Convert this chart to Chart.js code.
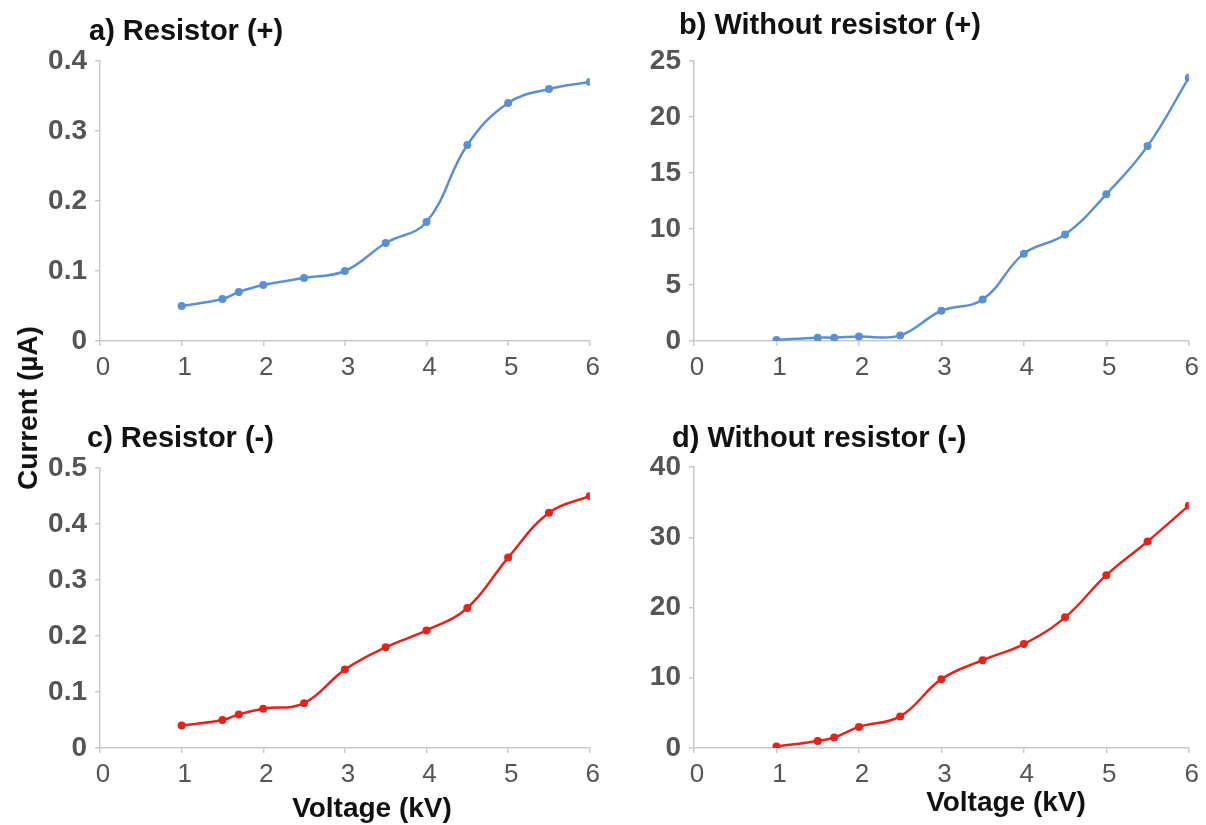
<!DOCTYPE html>
<html>
<head>
<meta charset="utf-8">
<script src="https://cdn.jsdelivr.net/npm/chart.js@4.4.1/dist/chart.umd.min.js"></script>
<style>
  body { margin: 0; background: #fff; }
  #wrap { position: relative; width: 1206px; height: 825px; overflow: hidden; font-family: "Liberation Sans", Arial, sans-serif; }
  canvas { position: absolute; }
  .lbl { position: absolute; font-weight: bold; font-size: 28px; color: #111; white-space: nowrap; }
  .ttl { position: absolute; font-weight: bold; font-size: 29px; color: #111; white-space: nowrap; transform: translateY(-50%); }
</style>
</head>
<body>
<div id="wrap">
  <canvas id="chartA" width="603" height="386" style="left:0px;top:0px"></canvas>
  <canvas id="chartB" width="608" height="386" style="left:594px;top:0px"></canvas>
  <canvas id="chartC" width="603" height="386" style="left:0px;top:407px"></canvas>
  <canvas id="chartD" width="608" height="386" style="left:594px;top:407px"></canvas>
  <div class="ttl" id="tA" style="left:89px;top:30px"></div>
  <div class="ttl" id="tB" style="left:679px;top:24px"></div>
  <div class="ttl" id="tC" style="left:87px;top:437px"></div>
  <div class="ttl" id="tD" style="left:672px;top:437px"></div>
  <div class="lbl" style="left:28px;top:408px;transform:translate(-50%,-50%) rotate(-90deg)">Current (µA)</div>
  <div class="lbl" style="left:372px;top:808px;transform:translate(-50%,-50%)">Voltage (kV)</div>
  <div class="lbl" style="left:1006px;top:802px;transform:translate(-50%,-50%)">Voltage (kV)</div>
</div>
<script>
// values
const voltage = [1, 1.5, 1.7, 2, 2.5, 3, 3.5, 4, 4.5, 5, 5.5, 6];
const currResPos = [0.05, 0.06, 0.07, 0.08, 0.09, 0.10, 0.14, 0.17, 0.28, 0.34, 0.36, 0.37];
const currNoResPos = [0.1, 0.3, 0.3, 0.4, 0.5, 2.7, 3.7, 7.8, 9.5, 13.1, 17.4, 23.5];
const currResNeg = [0.04, 0.05, 0.06, 0.07, 0.08, 0.14, 0.18, 0.21, 0.25, 0.34, 0.42, 0.45];
const currNoResNeg = [0.2, 1.0, 1.5, 3.0, 4.5, 9.8, 12.5, 14.8, 18.6, 24.6, 29.4, 34.5];

const panelTitles = ["a) Resistor (+)", "b) Without resistor (+)", "c) Resistor (-)", "d) Without resistor (-)"];
const yMax = [0.4, 25, 0.5, 40];
const yStep = [0.1, 5, 0.1, 10];

const blue = "#5b8fd3";
const red = "#e5221c";
const axisGrey = "#c9c9c9";
const tickText = "#555555";

// panel titles as page text
["tA", "tB", "tC", "tD"].forEach((id, i) => { document.getElementById(id).textContent = panelTitles[i]; });

function makePanel(id, idx, values, color, padTop) {
  const pts = voltage.map((v, i) => ({x: v, y: values[i]}));
  new Chart(id, {
    type: "line",
    data: {
      datasets: [{
        data: pts,
        borderColor: color,
        backgroundColor: color,
        borderWidth: 2.5,
        pointRadius: 4,
        pointBorderWidth: 0,
        tension: 0.4,
        fill: false
      }]
    },
    options: {
      responsive: false,
      animation: false,
      layout: { padding: { left: 0, right: 10, top: padTop, bottom: 0 } },
      plugins: {
        legend: { display: false },
        tooltip: { enabled: false },
        title: { display: false }
      },
      scales: {
        x: {
          type: "linear",
          min: 0, max: 6,
          ticks: { stepSize: 1, color: tickText, padding: 6, labelOffset: 3,
                   font: { family: "Liberation Sans", size: 26 } },
          grid: { drawOnChartArea: false, drawTicks: true, tickLength: 5, color: axisGrey, lineWidth: 1.5 },
          border: { color: axisGrey, width: 1.5 },
          afterFit: s => { s.height = 45; }
        },
        y: {
          min: 0, max: yMax[idx],
          ticks: { stepSize: yStep[idx], color: tickText, padding: 8,
                   font: { family: "Liberation Sans", size: 28, weight: "bold" },
                   callback: v => String(+v.toFixed(2)) },
          grid: { drawOnChartArea: false, drawTicks: true, tickLength: 5, color: axisGrey, lineWidth: 1.5 },
          border: { color: axisGrey, width: 1.5 },
          afterFit: s => { s.width = 100; }
        }
      }
    }
  });
}

makePanel("chartA", 0, currResPos, blue, 61);
makePanel("chartB", 1, currNoResPos, blue, 61);
makePanel("chartC", 2, currResNeg, red, 61);
makePanel("chartD", 3, currNoResNeg, red, 60);
</script>
</body>
</html>
